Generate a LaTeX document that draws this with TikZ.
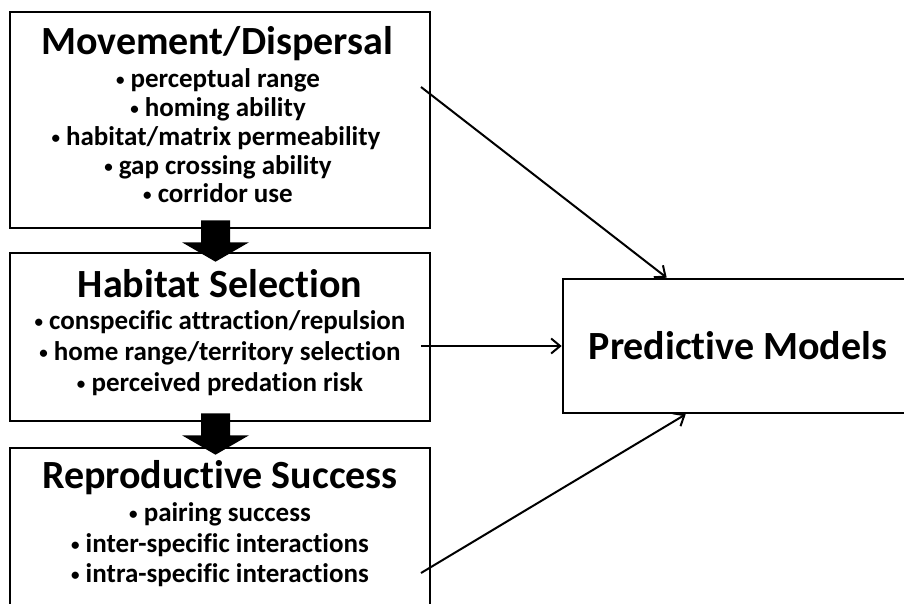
\documentclass[tikz,border=0pt]{standalone}
\usepackage{fontspec}
\setmainfont{Carlito}[Ligatures={NoCommon}]
\usetikzlibrary{arrows.meta,calc}

% small raised bullet in front of each list entry
\newcommand{\itemdot}{{\fontsize{17}{17}\selectfont\raisebox{1.5pt}{•}}}

\tikzset{
  box/.style={draw=black, line width=2.6pt, fill=white, inner sep=0pt},
  title/.style={anchor=base, inner sep=0pt, font=\fontsize{40}{48}\selectfont\bfseries},
  item/.style={anchor=base, inner sep=0pt, font=\fontsize{27}{32}\selectfont\bfseries},
  conn/.style={draw=black, line width=2pt, -{Straight Barb[length=9pt,width=15pt,line width=2pt]}},
  blockarrow/.style={fill=black}
}

\begin{document}
\begin{tikzpicture}[x=1pt,y=-1pt]
  \useasboundingbox (0,0) rectangle (904,603);
  \clip (0,0) rectangle (904,603);
  \fill[white] (0,0) rectangle (904,603);

  % the three stages on the left
  \node[box, minimum width=420pt, minimum height=216pt] (b1) at (220,120) {};
  \node[box, minimum width=420pt, minimum height=168pt] (b2) at (220,337) {};
  \node[box, minimum width=420pt, minimum height=180pt] (b3) at (220,538) {};

  % model box, running off the right edge
  \node[box, minimum width=350pt, minimum height=134pt] (pm) at (738,346) {};

  % stage 1
  \node[title] (t1) at (217,54) {Movement/Dispersal};
  \node[item] (i11) at (218,87) {\itemdot{} perceptual range};
  \node[item] (i12) at (218,116) {\itemdot{} homing ability};
  \node[item] (i13) at (216,145) {\itemdot{} habitat/matrix permeability};
  \node[item] (i14) at (218,174) {\itemdot{} gap crossing ability};
  \node[item] (i15) at (218,202) {\itemdot{} corridor use};

  % stage 2
  \node[title] (t2) at (220,297) {Habitat Selection};
  \node[item] (i21) at (220,329) {\itemdot{} conspecific attraction/repulsion};
  \node[item] (i22) at (220,360) {\itemdot{} home range/territory selection};
  \node[item] (i23) at (220,391) {\itemdot{} perceived predation risk};

  % stage 3
  \node[title] (t3) at (220,488) {Reproductive Success};
  \node[item] (i31) at (220,521) {\itemdot{} pairing success};
  \node[item] (i32) at (220,552) {\itemdot{} inter-specific interactions};
  \node[item] (i33) at (220,582) {\itemdot{} intra-specific interactions};

  % model label
  \node[title] (tm) at (738,359) {Predictive Models};

  % block arrows between stages
  \fill[blockarrow] ($(b1.south)+(-19,-9)$) -- ($(b1.south)+(10,-9)$) -- ($(b1.south)+(10,13)$)
    -- ($(b1.south)+(29,13)$) -- ($(b2.north)+(-4.5,10)$) -- ($(b1.south)+(-38,13)$)
    -- ($(b1.south)+(-19,13)$) -- cycle;
  \fill[blockarrow] ($(b2.south)+(-19,-9)$) -- ($(b2.south)+(10,-9)$) -- ($(b2.south)+(10,13)$)
    -- ($(b2.south)+(29,13)$) -- ($(b3.north)+(-4.5,8)$) -- ($(b2.south)+(-38,13)$)
    -- ($(b2.south)+(-19,13)$) -- cycle;

  % connectors to the model box
  \coordinate (s1) at (421,87);
  \coordinate (s2) at (421,346);
  \coordinate (s3) at (421,573);
  \draw[conn] (s1) -- ([xshift=105pt]pm.north west);
  \draw[conn] (s2) -- (pm.west);
  \draw[conn] (s3) -- ([xshift=124pt]pm.south west);
\end{tikzpicture}
\end{document}
